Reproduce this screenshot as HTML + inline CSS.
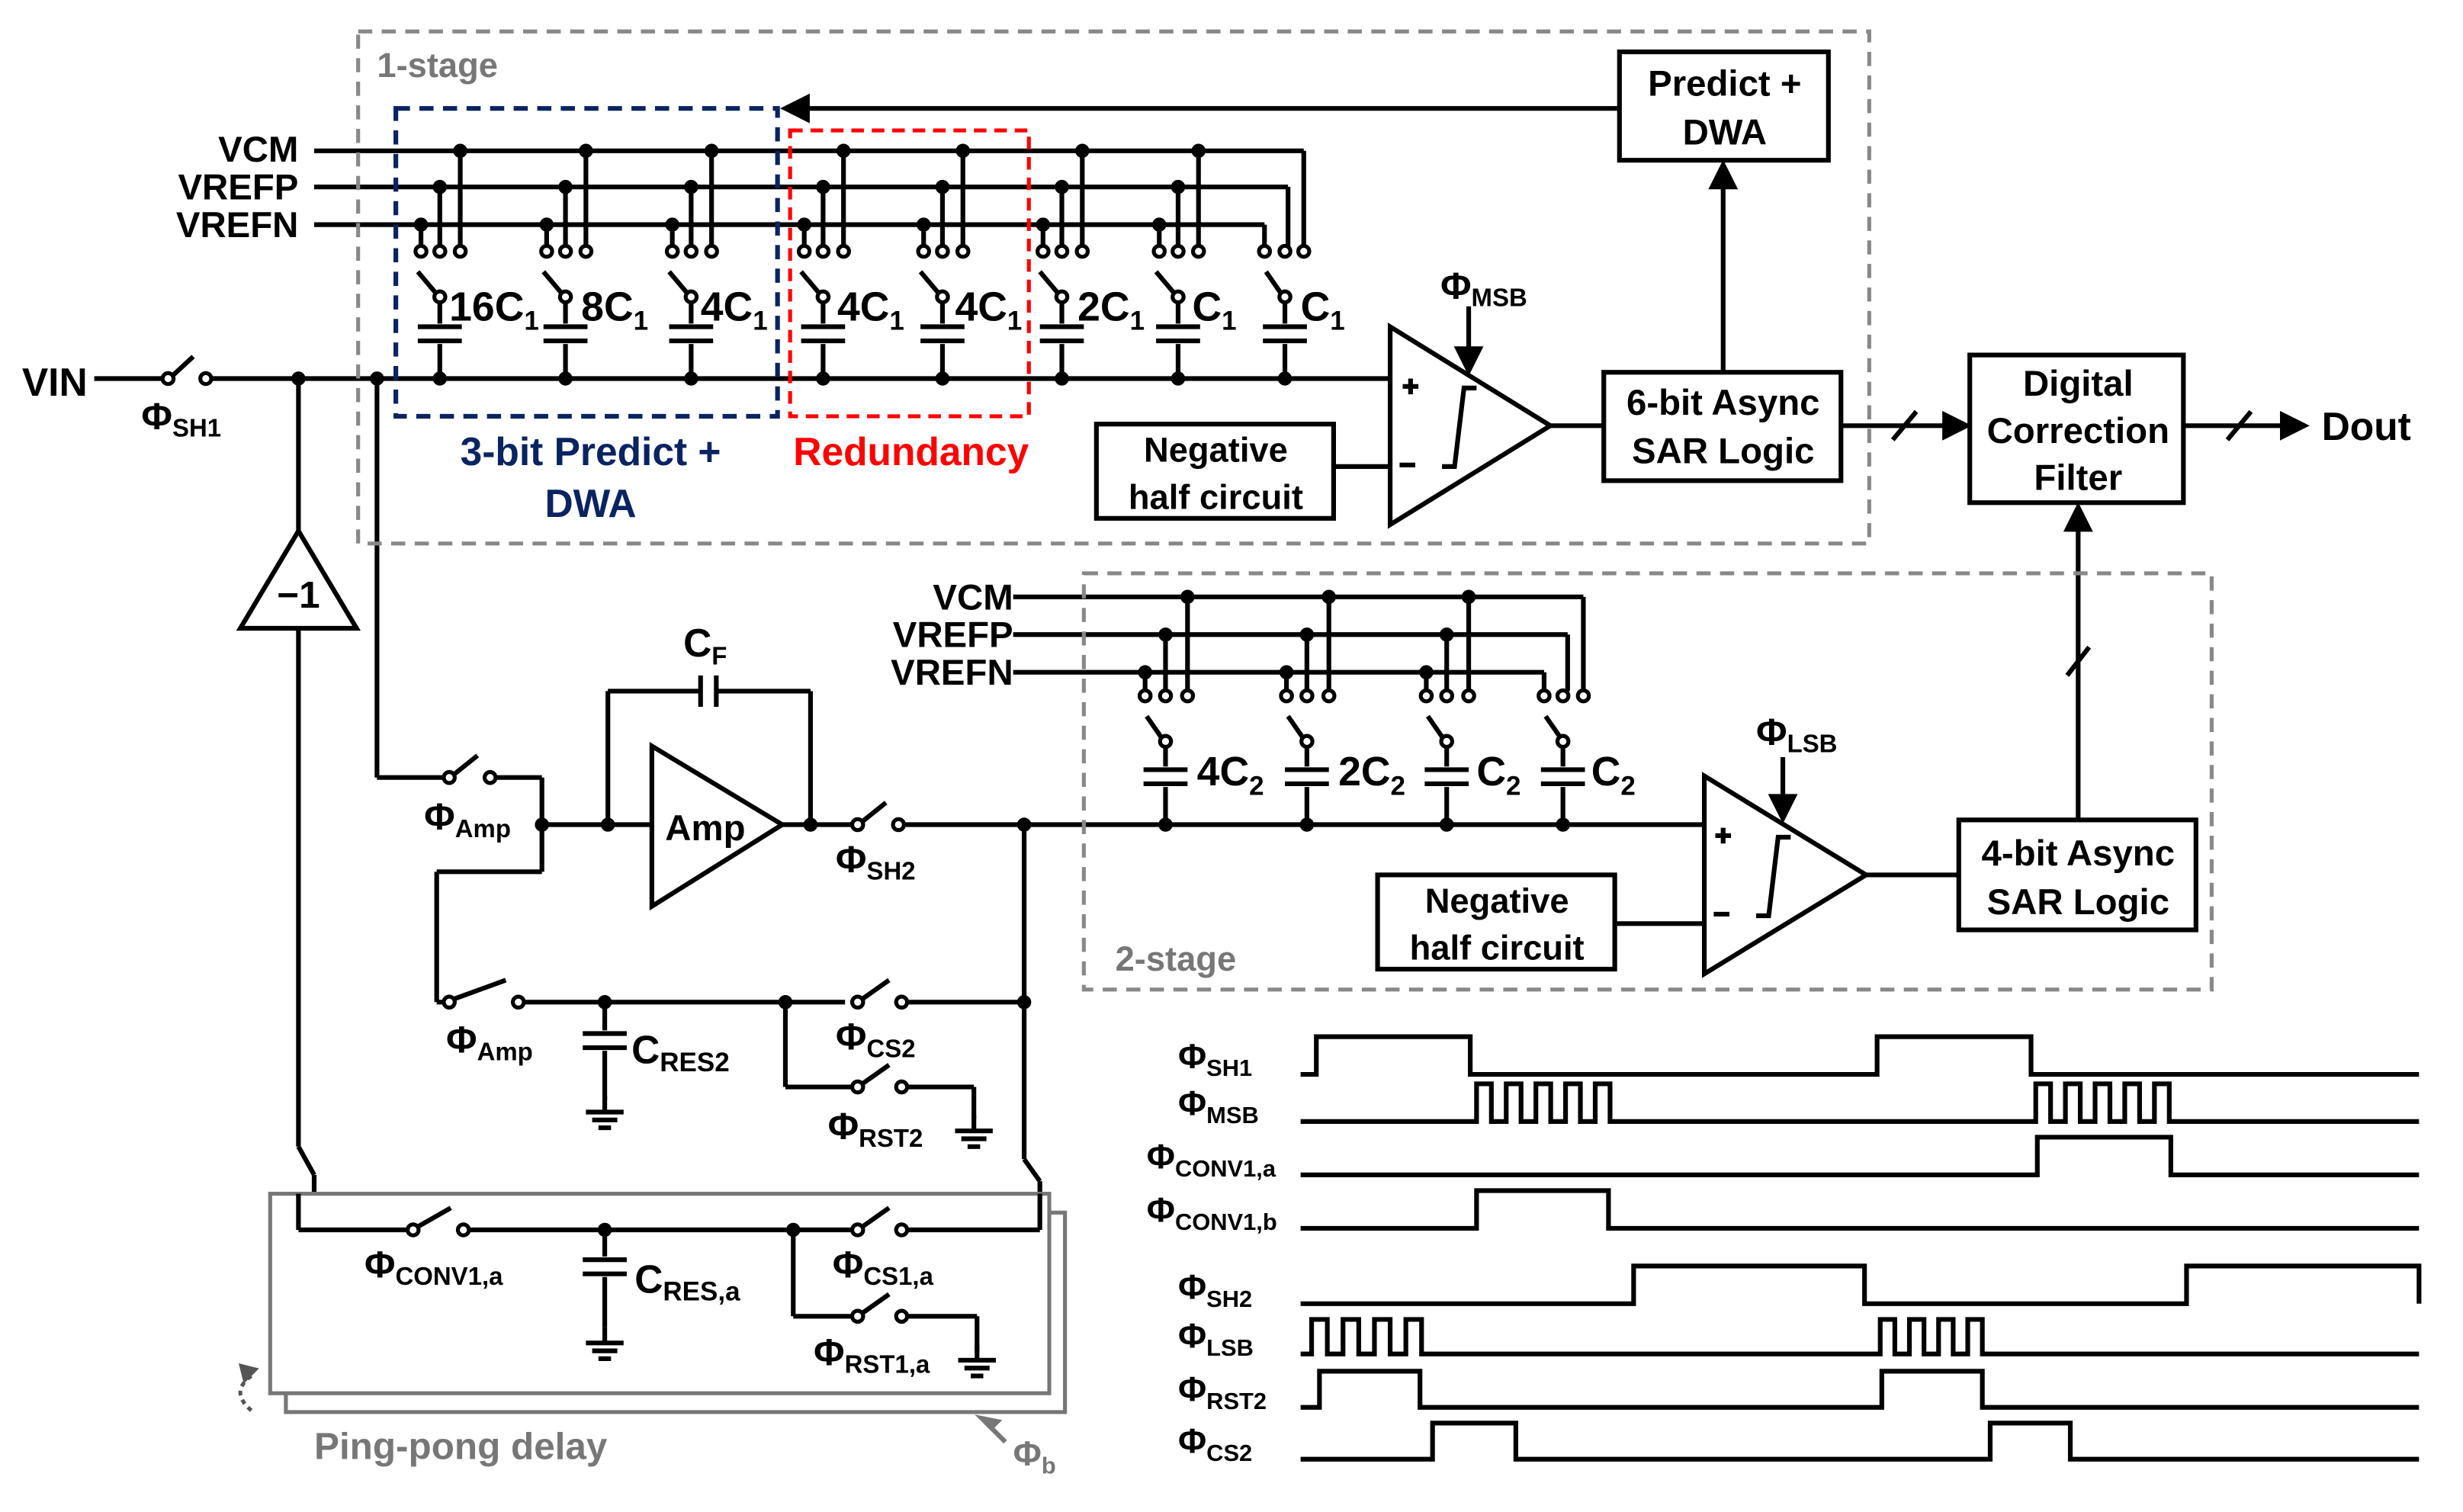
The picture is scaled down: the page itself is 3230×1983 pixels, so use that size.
<!DOCTYPE html>
<html><head><meta charset="utf-8"><style>
html,body{margin:0;padding:0;background:#fff}
svg{display:block}
text{font-family:"Liberation Sans",Arial,sans-serif;font-weight:bold;fill:#000}
</style></head><body>
<svg id="s" width="3230" height="1983" viewBox="0 0 1568 962.6" xmlns="http://www.w3.org/2000/svg">
<g id="g" stroke="#000" stroke-width="3" fill="none"></g>
<rect x="228" y="20" width="962" height="326" stroke="#888" stroke-width="2.5" stroke-dasharray="9,6" fill="none"/>
<rect x="252" y="69" width="243" height="196" stroke="#0a2461" stroke-width="3" stroke-dasharray="9,6" fill="none"/>
<rect x="503" y="83" width="152" height="182" stroke="#f00" stroke-width="2.5" stroke-dasharray="8,5" fill="none"/>
<rect x="690" y="365" width="718" height="265" stroke="#888" stroke-width="2.5" stroke-dasharray="9,6" fill="none"/>
<rect x="182" y="772" width="496" height="127" stroke="#777" stroke-width="2.5" fill="none"/>
<rect x="172" y="760" width="496" height="127" stroke="#777" stroke-width="2.5" fill="#fff"/>
<g id="g2" stroke="#000" stroke-width="3" fill="none"></g>
<text x="240" y="49" font-size="22" style="fill:#777">1-stage</text>
<text x="710" y="618" font-size="22" style="fill:#777">2-stage</text>
<text x="1098" y="61" font-size="23" text-anchor="middle">Predict +</text>
<text x="1098" y="92" font-size="23" text-anchor="middle">DWA</text>
<text x="190" y="103" font-size="23" text-anchor="end">VCM</text>
<text x="190" y="127" font-size="23" text-anchor="end">VREFP</text>
<text x="190" y="151" font-size="23" text-anchor="end">VREFN</text>
<text x="645" y="388" font-size="23" text-anchor="end">VCM</text>
<text x="645" y="412" font-size="23" text-anchor="end">VREFP</text>
<text x="645" y="436" font-size="23" text-anchor="end">VREFN</text>
<text x="286" y="204" font-size="26">16C<tspan font-size="17" dy="6">1</tspan></text>
<text x="370" y="204" font-size="26">8C<tspan font-size="17" dy="6">1</tspan></text>
<text x="446" y="204" font-size="26">4C<tspan font-size="17" dy="6">1</tspan></text>
<text x="533" y="204" font-size="26">4C<tspan font-size="17" dy="6">1</tspan></text>
<text x="608" y="204" font-size="26">4C<tspan font-size="17" dy="6">1</tspan></text>
<text x="686" y="204" font-size="26">2C<tspan font-size="17" dy="6">1</tspan></text>
<text x="759" y="204" font-size="26">C<tspan font-size="17" dy="6">1</tspan></text>
<text x="828" y="204" font-size="26">C<tspan font-size="17" dy="6">1</tspan></text>
<text x="762" y="500" font-size="26">4C<tspan font-size="17" dy="6">2</tspan></text>
<text x="852" y="500" font-size="26">2C<tspan font-size="17" dy="6">2</tspan></text>
<text x="940" y="500" font-size="26">C<tspan font-size="17" dy="6">2</tspan></text>
<text x="1013" y="500" font-size="26">C<tspan font-size="17" dy="6">2</tspan></text>
<text x="14" y="252" font-size="25">VIN</text>
<text x="90" y="273" font-size="24">Φ<tspan font-size="16" dy="5">SH1</tspan></text>
<text x="376" y="296" font-size="25" text-anchor="middle" style="fill:#0a2461">3-bit Predict +</text>
<text x="376" y="329" font-size="25" text-anchor="middle" style="fill:#0a2461">DWA</text>
<text x="580" y="296" font-size="25" text-anchor="middle" style="fill:#f00">Redundancy</text>
<text x="774" y="294" font-size="22" text-anchor="middle">Negative</text>
<text x="774" y="324" font-size="22" text-anchor="middle">half circuit</text>
<text x="953" y="581" font-size="22" text-anchor="middle">Negative</text>
<text x="953" y="611" font-size="22" text-anchor="middle">half circuit</text>
<text x="1097" y="264" font-size="23" text-anchor="middle">6-bit Async</text>
<text x="1097" y="295" font-size="23" text-anchor="middle">SAR Logic</text>
<text x="1323" y="551" font-size="23" text-anchor="middle">4-bit Async</text>
<text x="1323" y="582" font-size="23" text-anchor="middle">SAR Logic</text>
<text x="1323" y="252" font-size="23" text-anchor="middle">Digital</text>
<text x="1323" y="282" font-size="23" text-anchor="middle">Correction</text>
<text x="1323" y="312" font-size="23" text-anchor="middle">Filter</text>
<text x="1478" y="280" font-size="25">Dout</text>
<text x="917" y="190" font-size="24">Φ<tspan font-size="16" dy="5">MSB</tspan></text>
<text x="1118" y="474" font-size="24">Φ<tspan font-size="16" dy="5">LSB</tspan></text>
<text x="190" y="387" font-size="24" text-anchor="middle">−1</text>
<text x="449" y="535" font-size="23" text-anchor="middle">Amp</text>
<text x="435" y="418" font-size="25">C<tspan font-size="16" dy="5">F</tspan></text>
<text x="270" y="528" font-size="24">Φ<tspan font-size="16" dy="5">Amp</tspan></text>
<text x="532" y="555" font-size="24">Φ<tspan font-size="16" dy="5">SH2</tspan></text>
<text x="284" y="670" font-size="24">Φ<tspan font-size="16" dy="5">Amp</tspan></text>
<text x="402" y="677" font-size="25">C<tspan font-size="17" dy="5">RES2</tspan></text>
<text x="532" y="668" font-size="24">Φ<tspan font-size="16" dy="5">CS2</tspan></text>
<text x="527" y="725" font-size="24">Φ<tspan font-size="16" dy="5">RST2</tspan></text>
<text x="232" y="813" font-size="24">Φ<tspan font-size="16" dy="5">CONV1,a</tspan></text>
<text x="404" y="823" font-size="25">C<tspan font-size="17" dy="5">RES,a</tspan></text>
<text x="530" y="813" font-size="24">Φ<tspan font-size="16" dy="5">CS1,a</tspan></text>
<text x="518" y="869" font-size="24">Φ<tspan font-size="16" dy="5">RST1,a</tspan></text>
<text x="200" y="929" font-size="24" style="fill:#777">Ping-pong delay</text>
<text x="645" y="933" font-size="22" style="fill:#777">Φ<tspan font-size="15" dy="5" style="fill:#777">b</tspan></text>
<g font-size="22">
<text x="750" y="680">Φ<tspan font-size="15" dy="5">SH1</tspan></text>
<text x="750" y="710">Φ<tspan font-size="15" dy="5">MSB</tspan></text>
<text x="730" y="744">Φ<tspan font-size="15" dy="5">CONV1,a</tspan></text>
<text x="730" y="778">Φ<tspan font-size="15" dy="5">CONV1,b</tspan></text>
<text x="750" y="827">Φ<tspan font-size="15" dy="5">SH2</tspan></text>
<text x="750" y="858">Φ<tspan font-size="15" dy="5">LSB</tspan></text>
<text x="750" y="892">Φ<tspan font-size="15" dy="5">RST2</tspan></text>
<text x="750" y="925">Φ<tspan font-size="15" dy="5">CS2</tspan></text>
</g>
</svg>
<script>
var NS="http://www.w3.org/2000/svg",G=document.getElementById("g"),G2=document.getElementById("g2");
function el(t,a,p){var e=document.createElementNS(NS,t);for(var k in a)e.setAttribute(k,a[k]);(p||G).appendChild(e);return e;}
function L(x1,y1,x2,y2,p,c){el("line",{x1:x1,y1:y1,x2:x2,y2:y2,stroke:c||"#000"},p);}
function P(d,p,c,f){el("path",{d:d,stroke:c||"#000",fill:f||"none"},p);}
function dot(x,y,p){el("circle",{cx:x,cy:y,r:4.5,fill:"#000",stroke:"none"},p);}
function oc(x,y,p){el("circle",{cx:x,cy:y,r:3.5,fill:"#fff","stroke-width":2.5},p);}
function sw(x1,x2,y,p){L(x1+3,y-2,x2-8,y-14,p);oc(x1,y,p);oc(x2,y,p);}
function capV(x,yt,yb,ya){L(x,yt,x,ya-2);P("M"+(x-14)+" "+ya+"h28M"+(x-14)+" "+(ya+9)+"h28");L(x,ya+11,x,yb);}
function gnd(x,y,p){L(x,y-10,x,y,p);L(x-12,y,x+12,y,p);L(x-8,y+5,x+8,y+5,p);L(x-4,y+10,x+4,y+10,p);}
function arrow(x,y,dir,p){var d;if(dir=="r")d="M"+x+" "+y+"l-14 -7v14z";if(dir=="l")d="M"+x+" "+y+"l14 -7v14z";if(dir=="u")d="M"+x+" "+y+"l-7 14h14z";if(dir=="d")d="M"+x+" "+y+"l-7 -14h14z";P(d,p,"#000","#000");}
function box(x,y,w,h){el("rect",{x:x,y:y,width:w,height:h,fill:"#fff"});}
L(200,96,830,96);L(830,96,830,157);
L(200,119,820,119);L(820,119,820,157);
L(200,143,805,143);L(805,143,805,157);
var xs=[280,360,440,524,600,676,750];
xs.forEach(function(x){
 L(x-12,143,x-12,157);dot(x-12,143);L(x,119,x,157);dot(x,119);L(x+13,96,x+13,157);dot(x+13,96);
 oc(x-12,160);oc(x,160);oc(x+13,160);
 L(x-14,173,x-3,186);oc(x,189);capV(x,192,241,208);dot(x,241);
});
oc(805,160);oc(818,160);oc(830,160);L(806,173,815,186);oc(818,189);capV(818,192,241,208);dot(818,241);
L(190,241,885,241);dot(190,241);dot(240,241);
L(60,241,104,241);sw(107,131,241);L(134,241,190,241);
box(1031,33,133,69);L(1031,69,515,69);arrow(500,69,"l");
P("M885 208L885 334L987 271Z");L(849,297,885,297);box(698,270,151,60);
P("M918 297h8l6-50h8");L(893,246,903,246);L(898,241,898,251);L(891,296,901,296);
L(935,195,935,222);arrow(935,236,"d");
L(987,271,1021,271);box(1021,237,151,69);L(1097,237,1097,120);arrow(1097,105,"u");
L(1172,271,1238,271);arrow(1252,271,"r");L(1205,280,1220,262);
box(1254,226,136,94);L(1390,271,1452,271);arrow(1467,271,"r");L(1418,280,1433,262);
L(1323,522,1323,338);arrow(1323,323,"u");L(1316,430,1330,412);
L(190,241,190,338);P("M190 338L153 400L227 400Z");L(190,400,190,730);
L(240,241,240,495);L(240,495,283,495);sw(286,312,495);L(315,495,345,495);L(345,495,345,555);dot(345,525);
L(345,525,415,525);dot(387,525);L(387,525,387,440);L(387,440,446,440);L(446,430,446,450);L(456,430,456,450);L(456,440,516,440);L(516,440,516,525);
P("M415 475L415 577L498 525Z");L(498,525,543,525);dot(516,525);sw(546,572,525);L(575,525,1085,525);dot(652,525);
L(345,555,278,555);L(278,555,278,638);L(278,638,283,638);sw(286,330,638);L(333,638,652,638);dot(385,638);dot(500,638);
capV(385,638,700,658);gnd(385,708);
L(500,638,500,692);L(500,692,543,692);sw(546,574,692);L(577,692,620,692);L(620,692,620,712);gnd(620,720);
el("rect",{x:538,y:630,width:40,height:14,fill:"#fff",stroke:"none"});sw(546,574,638);
L(652,525,652,738);L(652,738,662,752);L(662,752,662,783);dot(652,638);
L(190,730,200,748);L(200,748,200,783);
L(190,783,260,783,G2);sw(263,295,783,G2);L(298,783,543,783,G2);dot(385,783,G2);dot(505,783,G2);
sw(546,574,783,G2);L(577,783,662,783,G2);
L(385,783,385,800,G2);P("M371 802h28M371 811h28",G2);L(385,813,385,845,G2);gnd(385,855,G2);
L(505,783,505,838,G2);L(505,838,543,838,G2);sw(546,574,838,G2);L(577,838,622,838,G2);L(622,838,622,860,G2);gnd(622,866,G2);
L(190,760,190,783,G2);L(662,760,662,783,G2);
el("path",{d:"M160 876 q-14 10 0 22",stroke:"#555","stroke-dasharray":"3,3",fill:"none","stroke-width":2.5},G2);
P("M162 872l-8 -2 2 8z",G2,"#555","#555");
L(640,918,628,906,G2,"#777");P("M625 903l10 2-4 4z",G2,"#777","#777");
L(645,380,1008,380);L(1008,380,1008,440);
L(645,404,998,404);L(998,404,998,440);
L(645,428,983,428);L(983,428,983,440);
[742,832,921].forEach(function(x){
 L(x-13,428,x-13,440);dot(x-13,428);L(x,404,x,440);dot(x,404);L(x+14,380,x+14,440);dot(x+14,380);
 oc(x-13,443);oc(x,443);oc(x+14,443);L(x-12,456,x-3,469);oc(x,472);capV(x,475,525,490);dot(x,525);
});
oc(983,443);oc(995,443);oc(1008,443);L(984,456,993,469);oc(995,472);capV(995,475,525,490);dot(995,525);
P("M1085 494L1085 620L1188 557Z");box(877,557,151,60);L(1028,588,1085,588);
P("M1118 583h8l6-50h8");L(1092,532,1102,532);L(1097,527,1097,537);L(1091,582,1101,582);
L(1135,482,1135,508);arrow(1135,521,"d");
L(1188,557,1247,557);box(1247,522,151,70);
function wave(y,h,segs){var d="M828 "+y;segs.forEach(function(s){d+="H"+s[0]+"V"+(s[1]?y-h:y);});d+="H1540";P(d);}
function pulses(x0,x1,n){var r=[],w=(x1-x0)/(2*n-1);for(var i=0;i<n;i++){r.push([x0+2*i*w,1]);r.push([x0+(2*i+1)*w,0]);}return r;}
wave(684,24,[[838,1],[936,0],[1195,1],[1293,0]]);
wave(714,24,pulses(940,1025,5).concat(pulses(1296,1381,5)));
wave(748,24,[[1297,1],[1382,0]]);
wave(782,24,[[940,1],[1024,0]]);
wave(830,24,[[1040,1],[1187,0],[1392,1],[1540,0]]);
wave(862,22,pulses(835,905,4).concat(pulses(1197,1262,4)));
wave(896,23,[[840,1],[904,0],[1198,1],[1262,0]]);
wave(929,23,[[912,1],[965,0],[1267,1],[1318,0]]);
</script>
</body></html>
